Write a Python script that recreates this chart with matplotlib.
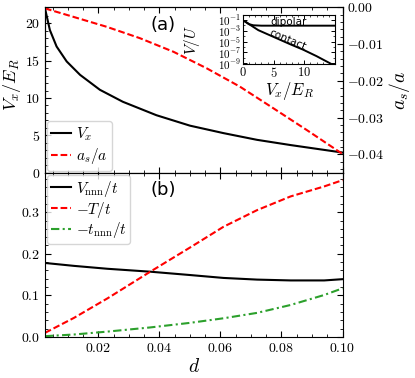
import numpy as np
import matplotlib
matplotlib.use("Agg")
import matplotlib.pyplot as plt
from matplotlib.ticker import AutoMinorLocator, FixedLocator, NullFormatter

plt.rcParams.update({
    "font.family": "serif",
    "font.serif": ["cmr10"],
    "mathtext.fontset": "cm",
    "axes.formatter.use_mathtext": True,
    "axes.unicode_minus": True,
    "font.size": 10,
})

# ---- data (panel a) ----
d_vx = [0.0025, 0.0041, 0.0063, 0.0096, 0.014, 0.0205, 0.028, 0.039, 0.050, 0.061, 0.072, 0.083, 0.100]
vx = [22.0, 19.1, 16.9, 14.9, 13.1, 11.1, 9.5, 7.7, 6.3, 5.3, 4.4, 3.7, 2.7]

d_as = [0.0025, 0.0118, 0.0227, 0.0336, 0.0446, 0.0555, 0.0664, 0.0774, 0.0883, 0.100]
as_a = [-0.0003, -0.0026, -0.0053, -0.0084, -0.0121, -0.0166, -0.0216, -0.0275, -0.0334, -0.0399]

# ---- data (panel b) ----
d_b = [0.0025, 0.012, 0.023, 0.037, 0.050, 0.061, 0.072, 0.083, 0.094, 0.100]
vnnn = [0.178, 0.171, 0.164, 0.157, 0.149, 0.142, 0.138, 0.136, 0.136, 0.139]
T_t = [0.010, 0.046, 0.093, 0.157, 0.215, 0.265, 0.305, 0.338, 0.362, 0.377]
tnnn = [0.002, 0.006, 0.013, 0.023, 0.034, 0.045, 0.058, 0.077, 0.101, 0.117]

# ---- inset data ----
vx_contact = [0.33, 1.0, 2.5, 4.9, 7.7, 9.8, 12.0, 14.5]
log_contact = [-1.3, -1.8, -2.9, -4.1, -5.5, -6.5, -7.7, -9.2]
vx_dipolar = [0.33, 1.0, 1.7, 3.0, 6.0, 10.0, 15.0]
log_dipolar = [-1.3, -1.8, -2.0, -2.07, -2.07, -2.07, -2.07]

fig = plt.figure(figsize=(4.15, 3.78), dpi=100)
L, R = 45 / 415, 342.5 / 415
ax1 = fig.add_axes([L, 1 - 172.7 / 378, R - L, (172.7 - 7.3) / 378])
ax2 = fig.add_axes([L, 1 - 337 / 378, R - L, (337 - 172.7) / 378], sharex=ax1)

def style(ax, right=True):
    ax.tick_params(which="both", direction="in", top=True, right=right)
    ax.tick_params(which="major", length=4, width=0.8)
    ax.tick_params(which="minor", length=2, width=0.6)
    ax.xaxis.set_minor_locator(AutoMinorLocator())
    ax.yaxis.set_minor_locator(AutoMinorLocator())

dash_red = (0, (3.2, 1.4))
dash_green = (0, (4, 1.6, 1, 1.6))

# panel a
l1, = ax1.plot(d_vx, vx, color="black", lw=1.5)
ax1.set_ylim(0, 22.15)
ax1.set_yticks([0, 5, 10, 15, 20])
ax1.set_yticklabels([r"$0$", r"$5$", r"$10$", r"$15$", r"$20$"])
ax1.set_ylabel(r"$V_x/E_R$", fontsize=13)
ax1.yaxis.set_label_coords(-0.075, 0.53)
style(ax1, right=False)
plt.setp(ax1.get_xticklabels(), visible=False)

ax1r = ax1.twinx()
l2, = ax1r.plot(d_as, as_a, color="red", lw=1.5, ls=dash_red)
ax1r.set_ylim(-0.045, 0)
ax1r.set_yticks([0.0, -0.01, -0.02, -0.03, -0.04])
ax1r.set_yticklabels([r"$0.00$", r"$-0.01$", r"$-0.02$", r"$-0.03$", r"$-0.04$"])
ax1r.tick_params(which="both", direction="in")
ax1r.tick_params(which="major", length=4, width=0.8)
ax1r.tick_params(which="minor", length=2, width=0.6)
ax1r.yaxis.set_minor_locator(AutoMinorLocator())
ax1r.set_ylabel(r"$a_s/a$", fontsize=14, labelpad=2)

ax1.legend([l1, l2], [r"$V_x$", r"$a_s/a$"], loc="lower left", fontsize=11,
           handlelength=1.3, handletextpad=0.3, borderpad=0.3, labelspacing=0.2,
           borderaxespad=0.12, fancybox=True, framealpha=0.8)
ax1.text(0.398, 0.893, "(a)", transform=ax1.transAxes, fontsize=13,
         family="DejaVu Sans", ha="center", va="center")

# panel b
ax2.plot(d_b, vnnn, color="black", lw=1.5, label=r"$V_{\rm nnn}/t$")
ax2.plot(d_b, T_t, color="red", lw=1.5, ls=dash_red, label=r"$-T/t$")
ax2.plot(d_b, tnnn, color="#2ca02c", lw=1.5, ls=dash_green, label=r"$-t_{\rm nnn}/t$")
ax2.set_xlim(0.0025, 0.1)
ax2.set_ylim(0, 0.395)
ax2.set_xticks([0.02, 0.04, 0.06, 0.08, 0.10])
ax2.set_xticklabels([r"$0.02$", r"$0.04$", r"$0.06$", r"$0.08$", r"$0.10$"])
ax2.set_yticks([0.0, 0.1, 0.2, 0.3])
ax2.set_yticklabels([r"$0.0$", r"$0.1$", r"$0.2$", r"$0.3$"])
style(ax2)
ax2.set_xlabel(r"$d$", fontsize=14, labelpad=2)
ax2.legend(loc="upper left", fontsize=11, handlelength=1.3, handletextpad=0.3,
           borderpad=0.25, labelspacing=0.05, borderaxespad=0.15, fancybox=True, framealpha=0.8)
ax2.text(0.398, 0.895, "(b)", transform=ax2.transAxes, fontsize=13,
         family="DejaVu Sans", ha="center", va="center")

# inset
axi = fig.add_axes([243 / 415, 1 - 64.3 / 378, (335 - 243) / 415, (64.3 - 15) / 378])
axi.semilogy(vx_contact, [10.0 ** v for v in log_contact], color="black", lw=1.4)
axi.semilogy(vx_dipolar, [10.0 ** v for v in log_dipolar], color="black", lw=1.4)
axi.set_xlim(0, 15)
axi.set_ylim(10 ** -9.2, 10 ** -0.1)
axi.yaxis.set_major_locator(FixedLocator([1e-1, 1e-3, 1e-5, 1e-7, 1e-9]))
axi.yaxis.set_minor_locator(FixedLocator([1e-2, 1e-4, 1e-6, 1e-8]))
axi.yaxis.set_minor_formatter(NullFormatter())
axi.set_yticklabels([r"$10^{-1}$", r"$10^{-3}$", r"$10^{-5}$", r"$10^{-7}$", r"$10^{-9}$"])
axi.set_xticks([0, 5, 10])
axi.set_xticklabels([r"$0$", r"$5$", r"$10$"])
axi.xaxis.set_minor_locator(AutoMinorLocator())
axi.tick_params(which="both", direction="in", top=True, right=True, labelsize=8, pad=1.5)
axi.tick_params(axis="x", labelsize=9)
axi.tick_params(which="major", length=3, width=0.7)
axi.tick_params(which="minor", length=1.5, width=0.5)
axi.set_xlabel(r"$V_x/E_R$", fontsize=12, labelpad=0)
axi.set_ylabel(r"$V/U$", fontsize=11, labelpad=11)
axi.text(7.4, 10 ** -1.3, "dipolar", fontsize=7.5, family="DejaVu Sans", ha="center", va="center")
axi.text(7.3, 10 ** -4.7, "contact", fontsize=7.5, family="DejaVu Sans", ha="center",
         va="center", rotation=-23)

fig.savefig("out.png", dpi=100)
